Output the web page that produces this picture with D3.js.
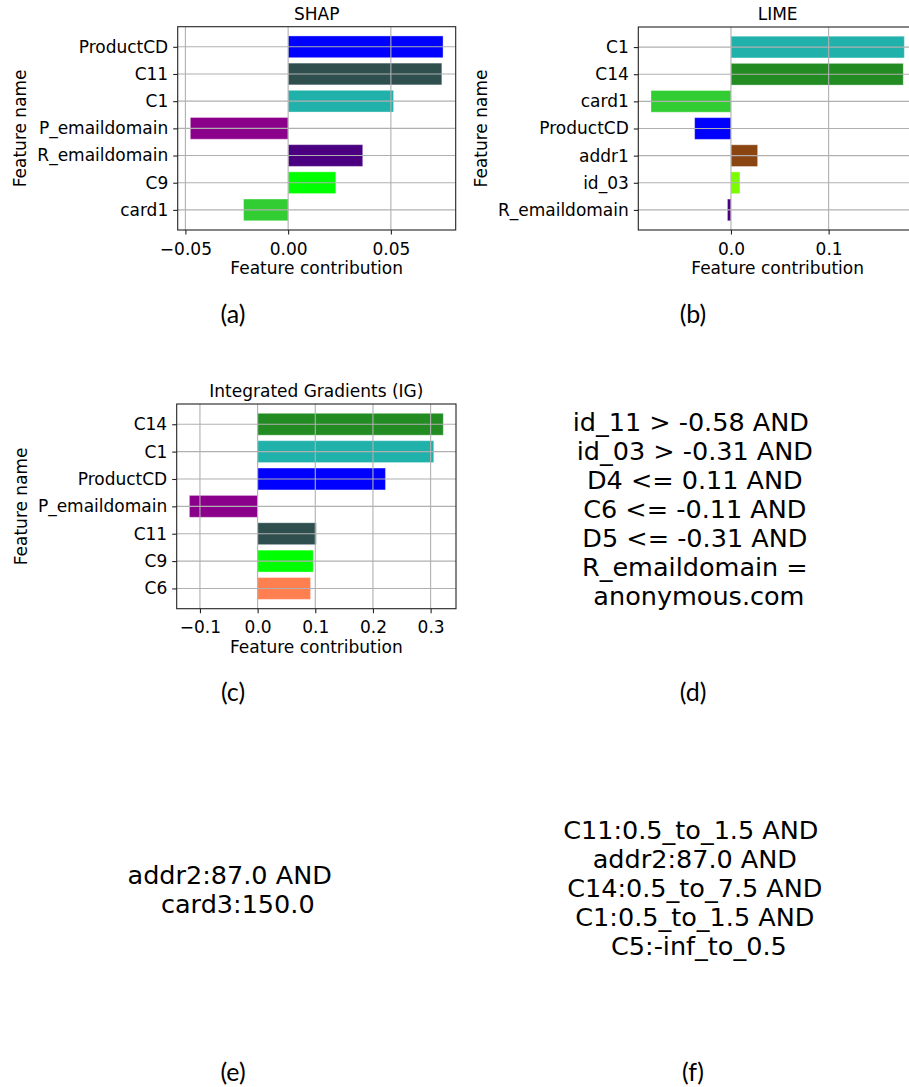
<!DOCTYPE html>
<html>
<head>
<meta charset="utf-8">
<script src="https://cdn.jsdelivr.net/npm/d3@7"></script>
<style>
  body { margin: 0; background: #fff; }
</style>
</head>
<body>
<script>
// SHAP panel data
var shapFeatures = ["ProductCD", "C11", "C1", "P_emaildomain", "R_emaildomain", "C9", "card1"];
var shapValues = [0.0754, 0.0748, 0.0513, -0.0476, 0.0363, 0.0232, -0.0217];
var shapColors = ["#0000ff", "#2f4f4f", "#20b2aa", "#8b008b", "#4b0082", "#00ff00", "#32cd32"];
var shapTicks = [-0.05, 0, 0.05];

// LIME panel data
var limeFeatures = ["C1", "C14", "card1", "ProductCD", "addr1", "id_03", "R_emaildomain"];
var limeValues = [0.1775, 0.1764, -0.0819, -0.0372, 0.0273, 0.0092, -0.0036];
var limeColors = ["#20b2aa", "#228b22", "#32cd32", "#0000ff", "#8b4513", "#7cfc00", "#4b0082"];
var limeTicks = [0, 0.1];

// Integrated Gradients panel data
var igFeatures = ["C14", "C1", "ProductCD", "P_emaildomain", "C11", "C9", "C6"];
var igValues = [0.322, 0.3055, 0.2217, -0.1183, 0.1017, 0.0965, 0.0918];
var igColors = ["#228b22", "#20b2aa", "#0000ff", "#8b008b", "#2f4f4f", "#00ff00", "#ff7f50"];
var igTicks = [-0.1, 0, 0.1, 0.2, 0.3];

// rule texts (d), (e), (f)
var ruleD = ["id_11 > -0.58 AND", " id_03 > -0.31 AND", " D4 <= 0.11 AND", " C6 <= -0.11 AND",
             " D5 <= -0.31 AND", " R_emaildomain =", "  anonymous.com"];
var ruleE = ["addr2:87.0 AND", "  card3:150.0"];
var ruleF = ["C11:0.5_to_1.5 AND", " addr2:87.0 AND", " C14:0.5_to_7.5 AND", " C1:0.5_to_1.5 AND",
             "  C5:-inf_to_0.5"];

var captions = ["(a)", "(b)", "(c)", "(d)", "(e)", "(f)"];

var FONT = "'DejaVu Sans'";

var w = 909, h = 1087;
var svg = d3.select("body").append("svg")
    .attr("width", w)
    .attr("height", h);

//draws one horizontal bar panel
function barPanel(box, title, features, values, colors, ticks, fmt){
    var g = svg.append("g");

    //matplotlib style 5% margin around the data
    var ext = d3.extent(values.concat([0]));
    var pad = (ext[1] - ext[0]) * 0.05;
    var x = d3.scaleLinear()
        .domain([ext[0] - pad, ext[1] + pad])
        .range([box.left, box.right]);

    var n = features.length;
    var y = d3.scaleLinear()
        .domain([-0.4 - 0.34, n - 1 + 0.4 + 0.34])
        .range([box.top, box.bottom]);

    //clip so the bars stay inside the axes box
    var clipId = "clip" + title.replace(/\W/g, "");
    svg.append("clipPath").attr("id", clipId)
        .append("rect")
        .attr("x", box.left).attr("y", box.top)
        .attr("width", box.right - box.left)
        .attr("height", box.bottom - box.top);

    var plot = g.append("g").attr("clip-path", "url(#" + clipId + ")");

    plot.selectAll(".bar")
        .data(values)
        .enter()
        .append("rect")
        .attr("class", "bar")
        .attr("x", function(d){ return x(Math.min(0, d)); })
        .attr("y", function(d, i){ return y(i - 0.4); })
        .attr("width", function(d){ return Math.abs(x(d) - x(0)); })
        .attr("height", y(0.8) - y(0))
        .style("fill", function(d, i){ return colors[i]; })
        .style("stroke", "#ffffff")
        .style("stroke-opacity", 0.35)
        .style("stroke-width", 1);

    //grid lines on top of the bars
    plot.selectAll(".vgrid")
        .data(ticks)
        .enter()
        .append("line")
        .attr("x1", function(d){ return x(d); })
        .attr("x2", function(d){ return x(d); })
        .attr("y1", box.top)
        .attr("y2", box.bottom)
        .style("stroke", "#b0b0b0")
        .style("stroke-width", 1.1);

    plot.selectAll(".hgrid")
        .data(features)
        .enter()
        .append("line")
        .attr("x1", box.left)
        .attr("x2", box.right)
        .attr("y1", function(d, i){ return y(i); })
        .attr("y2", function(d, i){ return y(i); })
        .style("stroke", "#b0b0b0")
        .style("stroke-width", 1.1);

    //axes box
    g.append("rect")
        .attr("x", box.left).attr("y", box.top)
        .attr("width", box.right - box.left)
        .attr("height", box.bottom - box.top)
        .style("fill", "none")
        .style("stroke", "#222")
        .style("stroke-width", 1.1);

    //x axis
    var xAxis = d3.axisBottom(x)
        .tickValues(ticks)
        .tickSize(4.5)
        .tickPadding(4)
        .tickFormat(fmt);
    var xg = g.append("g")
        .attr("transform", "translate(0," + box.bottom + ")")
        .call(xAxis);
    xg.select(".domain").remove();
    xg.selectAll("text")
        .style("font-family", FONT)
        .style("font-size", "17px")
        .style("fill", "#000")
        .attr("dy", "0.95em");
    xg.selectAll("line").style("stroke", "#222").style("stroke-width", 1.1);

    //y axis with the feature names
    var yAxis = d3.axisLeft(y)
        .tickValues(d3.range(n))
        .tickSize(4.5)
        .tickPadding(5)
        .tickFormat(function(d){ return features[d]; });
    var yg = g.append("g")
        .attr("transform", "translate(" + box.left + ",0)")
        .call(yAxis);
    yg.select(".domain").remove();
    yg.selectAll("text")
        .style("font-family", FONT)
        .style("font-size", "17px")
        .style("fill", "#000");
    yg.selectAll("line").style("stroke", "#222").style("stroke-width", 1.1);

    //y label sits left of the widest tick label
    var widest = 0;
    yg.selectAll("text").each(function(){
        widest = Math.max(widest, this.getComputedTextLength());
    });
    var labX = box.left - 9.5 - widest - 11;

    g.append("text")
        .attr("transform", "translate(" + labX + "," + (box.top + box.bottom) / 2 + ") rotate(-90)")
        .attr("text-anchor", "middle")
        .style("font-family", FONT)
        .style("font-size", "17px")
        .text("Feature name");

    g.append("text")
        .attr("x", (box.left + box.right) / 2)
        .attr("y", box.bottom + 44)
        .attr("text-anchor", "middle")
        .style("font-family", FONT)
        .style("font-size", "17px")
        .text("Feature contribution");

    g.append("text")
        .attr("x", (box.left + box.right) / 2)
        .attr("y", box.top - 7)
        .attr("text-anchor", "middle")
        .style("font-family", FONT)
        .style("font-size", "17px")
        .text(title);
}

var minus = function(s){ return s.replace("-", "\u2212"); };

barPanel({left: 177.7, right: 455.7, top: 26.7, bottom: 230}, "SHAP",
    shapFeatures, shapValues, shapColors, shapTicks,
    function(d){ return minus(d3.format(".2f")(d)); });

barPanel({left: 638.3, right: 917, top: 27, bottom: 230}, "LIME",
    limeFeatures, limeValues, limeColors, limeTicks,
    function(d){ return minus(d3.format(".1f")(d)); });

barPanel({left: 176.7, right: 456, top: 404, bottom: 608.7}, "Integrated Gradients (IG)",
    igFeatures, igValues, igColors, igTicks,
    function(d){ return minus(d3.format(".1f")(d)); });

//rule text blocks, centered lines
function ruleBlock(lines, cx, cy){
    var step = 29;
    var first = cy - step * (lines.length - 1) / 2;
    svg.append("g").selectAll("text")
        .data(lines)
        .enter()
        .append("text")
        .attr("xml:space", "preserve")
        .attr("x", cx)
        .attr("y", function(d, i){ return first + i * step; })
        .attr("text-anchor", "middle")
        .style("white-space", "pre")
        .style("font-family", FONT)
        .style("font-size", "25.5px")
        .text(function(d){ return d; });
}

ruleBlock(ruleD, 690.8, 518.3);
ruleBlock(ruleE, 229.7, 898);
ruleBlock(ruleF, 690.8, 896.7);

//panel captions
var capX = [233, 693];
var capY = [323, 701, 1081];
svg.selectAll(".caption")
    .data(captions)
    .enter()
    .append("text")
    .attr("class", "caption")
    .attr("x", function(d, i){ return capX[i % 2]; })
    .attr("y", function(d, i){ return capY[Math.floor(i / 2)]; })
    .attr("text-anchor", "middle")
    .style("font-family", "Lato, 'Open Sans'")
    .style("font-size", "25px")
    .text(function(d){ return d; });
</script>
</body>
</html>
